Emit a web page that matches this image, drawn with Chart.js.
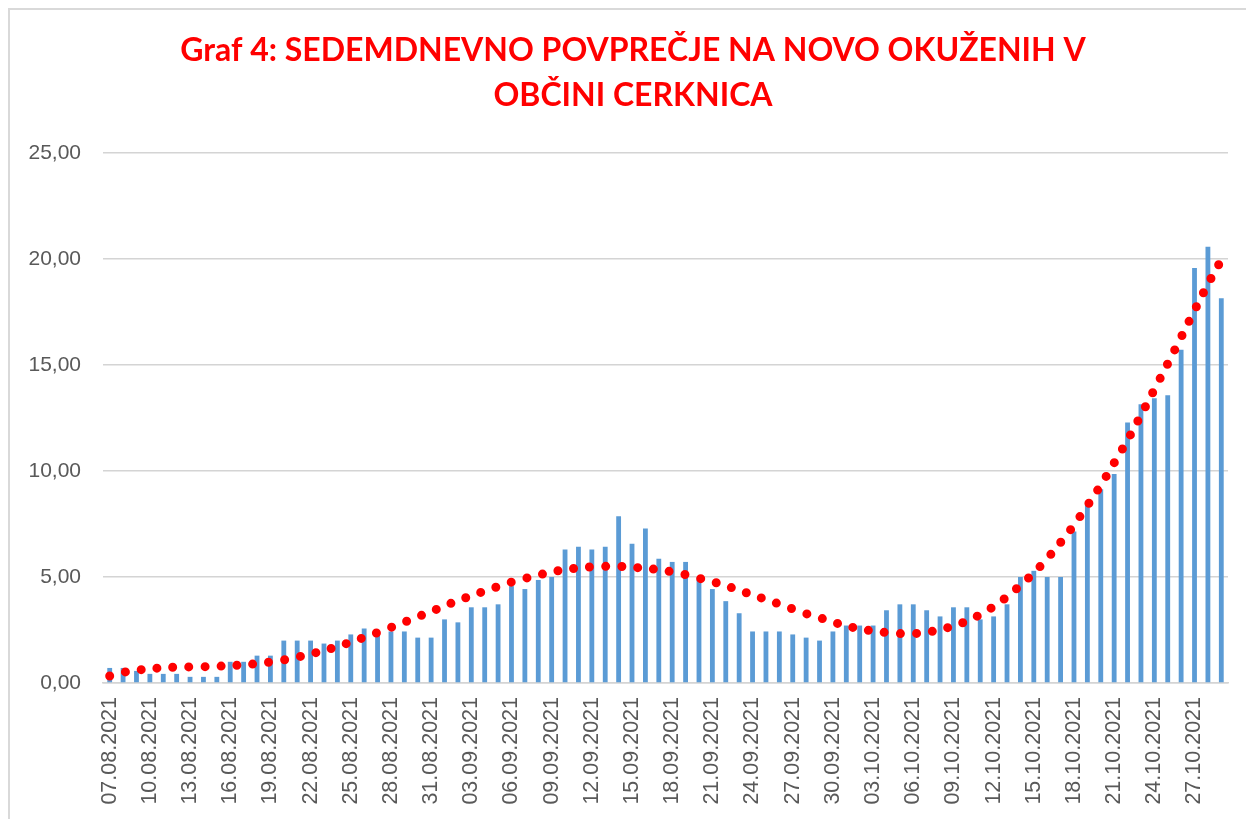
<!DOCTYPE html>
<html>
<head>
<meta charset="utf-8">
<script src="https://cdn.jsdelivr.net/npm/chart.js@4"></script>
<style>
  html, body { margin: 0; padding: 0; background: #fff; overflow: hidden; }
  #wrap { position: relative; width: 1246px; height: 819px; }
</style>
</head>
<body>
<div id="wrap"><canvas id="grafOkuzeni"></canvas></div>
<script>
const datumi = [
  "07.08.2021","08.08.2021","09.08.2021","10.08.2021","11.08.2021","12.08.2021","13.08.2021","14.08.2021",
  "15.08.2021","16.08.2021","17.08.2021","18.08.2021","19.08.2021","20.08.2021","21.08.2021","22.08.2021",
  "23.08.2021","24.08.2021","25.08.2021","26.08.2021","27.08.2021","28.08.2021","29.08.2021","30.08.2021",
  "31.08.2021","01.09.2021","02.09.2021","03.09.2021","04.09.2021","05.09.2021","06.09.2021","07.09.2021",
  "08.09.2021","09.09.2021","10.09.2021","11.09.2021","12.09.2021","13.09.2021","14.09.2021","15.09.2021",
  "16.09.2021","17.09.2021","18.09.2021","19.09.2021","20.09.2021","21.09.2021","22.09.2021","23.09.2021",
  "24.09.2021","25.09.2021","26.09.2021","27.09.2021","28.09.2021","29.09.2021","30.09.2021","01.10.2021",
  "02.10.2021","03.10.2021","04.10.2021","05.10.2021","06.10.2021","07.10.2021","08.10.2021","09.10.2021",
  "10.10.2021","11.10.2021","12.10.2021","13.10.2021","14.10.2021","15.10.2021","16.10.2021","17.10.2021",
  "18.10.2021","19.10.2021","20.10.2021","21.10.2021","22.10.2021","23.10.2021","24.10.2021","25.10.2021",
  "26.10.2021","27.10.2021","28.10.2021","29.10.2021"
];

// sedemdnevno povprecje (stolpci)
const povprecje = [
  0.71, 0.71, 0.57, 0.43, 0.43, 0.43, 0.29, 0.29, 0.29, 1.00, 1.00, 1.29, 1.29, 2.00,
  2.00, 2.00, 1.86, 2.00, 2.29, 2.57, 2.43, 2.43, 2.43, 2.14, 2.14, 3.00, 2.86, 3.57,
  3.57, 3.71, 4.57, 4.43, 4.86, 5.00, 6.29, 6.43, 6.29, 6.43, 7.86, 6.57, 7.29, 5.86,
  5.71, 5.71, 5.00, 4.43, 3.86, 3.29, 2.43, 2.43, 2.43, 2.29, 2.14, 2.00, 2.43, 2.71,
  2.71, 2.71, 3.43, 3.71, 3.71, 3.43, 3.14, 3.57, 3.57, 3.00, 3.14, 3.71, 5.00, 5.29,
  5.00, 5.00, 7.14, 8.43, 9.14, 9.86, 12.29, 13.14, 13.43, 13.57, 15.71, 19.57, 20.57, 18.14
];

// trendna crta (pike)
const trend = [
  0.33, 0.50, 0.60, 0.67, 0.72, 0.75, 0.76, 0.77, 0.79, 0.82, 0.86, 0.91, 0.99, 1.09,
  1.22, 1.37, 1.53, 1.72, 1.93, 2.15, 2.38, 2.62, 2.87, 3.12, 3.37, 3.63, 3.89, 4.11,
  4.34, 4.55, 4.76, 4.93, 5.09, 5.23, 5.35, 5.42, 5.48, 5.50, 5.50, 5.46, 5.41, 5.34,
  5.24, 5.11, 4.94, 4.78, 4.58, 4.38, 4.15, 3.94, 3.72, 3.49, 3.27, 3.08, 2.88, 2.69,
  2.56, 2.45, 2.38, 2.33, 2.33, 2.39, 2.52, 2.69, 2.92, 3.23, 3.61, 4.07, 4.61, 5.19,
  5.87, 6.63, 7.45, 8.37, 9.33, 10.38, 11.46, 12.63, 13.84, 15.06, 16.31, 17.57, 18.81, 19.95
];

const yTicks = [0, 5, 10, 15, 20, 25];

const okvir = {
  id: "okvir",
  beforeDraw(chart) {
    const ctx = chart.ctx;
    ctx.save();
    ctx.strokeStyle = "#d9d9d9";
    ctx.lineWidth = 2;
    ctx.beginPath();
    ctx.moveTo(9, chart.height);
    ctx.lineTo(9, 9);
    ctx.lineTo(chart.width, 9);
    ctx.stroke();
    ctx.restore();
  },
};

const grafOkuzeni = document.getElementById("grafOkuzeni");
new Chart(grafOkuzeni, {
  type: "bar",
  data: {
    labels: datumi,
    datasets: [
      {
        type: "line",
        label: "Trend",
        data: trend,
        borderColor: "#FF0000",
        borderWidth: 9,
        borderDash: [0, 16],
        borderCapStyle: "round",
        pointRadius: 0,
        tension: 0.4,
        fill: false,
        order: 0,
      },
      {
        label: "Sedemdnevno povprečje",
        data: povprecje,
        backgroundColor: "#5B9BD5",
        barPercentage: 0.36,
        categoryPercentage: 1,
        order: 1,
      },
    ],
  },
  options: {
    responsive: true,
    maintainAspectRatio: false,
    animation: false,
    layout: {
      padding: { top: 0, left: 24, right: 4, bottom: 0 },
    },
    scales: {
      x: {
        grid: { display: false, drawTicks: false, tickLength: 0 },
        border: { display: true, color: "#d4d4d4", width: 1.5 },
        ticks: {
          autoSkip: false,
          minRotation: 90,
          maxRotation: 90,
          padding: 14,
          color: "#595959",
          font: { family: "Liberation Sans", size: 21.5 },
          callback: function (val, i) {
            return i % 3 === 0 ? datumi[i] : "";
          },
        },
        afterFit: function (scale) {
          scale.height = 136;
          scale.paddingLeft = 0;
          scale.paddingRight = 18;
        },
      },
      y: {
        min: 0,
        max: 25,
        afterBuildTicks: function (scale) {
          scale.ticks = yTicks.map((v) => ({ value: v }));
        },
        grid: { color: "#d4d4d4", lineWidth: 1.5, drawTicks: false, tickLength: 0 },
        border: { display: false },
        ticks: {
          padding: 22,
          color: "#595959",
          font: { family: "Liberation Sans", size: 21 },
          callback: function (v) {
            return v.toFixed(2).replace(".", ",");
          },
        },
        afterFit: function (scale) {
          scale.width = 79;
        },
      },
    },
    plugins: {
      legend: { display: false },
      tooltip: { enabled: false },
      title: {
        display: true,
        text: ["Graf 4: SEDEMDNEVNO POVPREČJE NA NOVO OKUŽENIH V", "OBČINI CERKNICA"],
        color: "#FF0000",
        font: { family: "Lato", size: 32, weight: "bold", lineHeight: 1.42 },
        padding: { top: 28, bottom: 34 },
      },
    },
  },
  plugins: [okvir],
});
</script>
</body>
</html>
